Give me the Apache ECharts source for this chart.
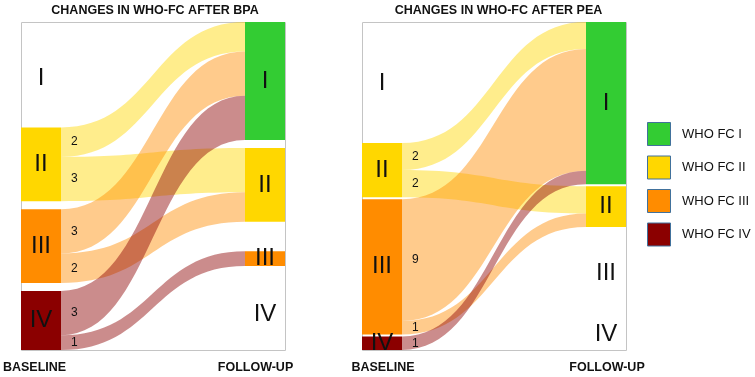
<!DOCTYPE html>
<html>
<head>
<meta charset="utf-8">
<title>Changes in WHO-FC</title>
<script src="https://cdn.jsdelivr.net/npm/echarts@6/dist/echarts.min.js"></script>
<style>
  html, body { margin: 0; padding: 0; background: #fff; }
  #chart { width: 755px; height: 377px; }
</style>
</head>
<body>
<div id="chart"></div>
<script>
// WHO functional classes
const classes = ['I', 'II', 'III', 'IV'];
const classColors = ['#33CC33', '#FFD700', '#FF8C00', '#8B0000'];
const legendNames = ['WHO FC I', 'WHO FC II', 'WHO FC III', 'WHO FC IV'];

// BPA: patients moving from baseline class to follow-up class
const bpaFrom = ['II', 'II', 'III', 'III', 'IV', 'IV'];
const bpaTo = ['I', 'II', 'I', 'II', 'I', 'III'];
const bpaCount = [2, 3, 3, 2, 3, 1];

// PEA
const peaFrom = ['II', 'II', 'III', 'III', 'IV'];
const peaTo = ['I', 'II', 'I', 'II', 'I'];
const peaCount = [2, 2, 9, 1, 1];

// room kept for classes nobody is in (in patient units), so the label still has a place
const bpaBaseRoom = [6.6, 0, 0, 0];
const bpaFollowRoom = [0, 0, 0, 5.15];
const bpaFollowPad = [0, 0, 0.9, 0];
const peaBaseRoom = [8.8, 0, 0, 0];
const peaFollowRoom = [0, 0, 6.2, 2.6];
const peaFollowPad = [0, 0, 0, 0];

const FONT = "'Liberation Sans', Arial, Helvetica, sans-serif";
const boxTop = 22;
const boxW = 264;
const boxH = 328;
const nodeW = 40;
const clear = 'rgba(0,0,0,0)';

const panels = [
  {
    tag: 'bpa', title: 'CHANGES IN WHO-FC AFTER BPA', left: 21, gap: 8,
    from: bpaFrom, to: bpaTo, count: bpaCount,
    baseRoom: bpaBaseRoom, followRoom: bpaFollowRoom, followPad: bpaFollowPad,
    emptyLabelShift: 8,
    titleX: 155, baseX: 34.5, followX: 255.5,
  },
  {
    tag: 'pea', title: 'CHANGES IN WHO-FC AFTER PEA', left: 362, gap: 2,
    from: peaFrom, to: peaTo, count: peaCount,
    baseRoom: peaBaseRoom, followRoom: peaFollowRoom, followPad: peaFollowPad,
    emptyLabelShift: 2,
    titleX: 498.5, baseX: 383, followX: 607,
  },
];

function columnNodes(tag, depth, used, room, pad, shift) {
  const out = [];
  classes.forEach((c, i) => {
    if (pad[i] > 0) {
      out.push({
        name: tag + '-pad-' + c, depth: depth, value: pad[i],
        itemStyle: { color: clear }, label: { show: false },
      });
    }
    const node = { name: tag + '-' + c, depth: depth, label: { formatter: c } };
    if (used.indexOf(c) >= 0) {
      node.itemStyle = { color: classColors[i] };
    } else {
      node.value = room[i];
      node.itemStyle = { color: clear };
      node.label.offset = [0, shift];
    }
    out.push(node);
  });
  return out;
}

function buildSeries(p) {
  const base = columnNodes(p.tag + '-b', 0, p.from, p.baseRoom, [0, 0, 0, 0], p.emptyLabelShift);
  const follow = columnNodes(p.tag + '-f', 1, p.to, p.followRoom, p.followPad, 2);
  const links = p.count.map((v, i) => ({
    source: p.tag + '-b-' + p.from[i],
    target: p.tag + '-f-' + p.to[i],
    value: v,
  }));
  return {
    type: 'sankey',
    left: p.left,
    top: boxTop,
    width: boxW,
    height: boxH,
    nodeWidth: nodeW,
    nodeGap: p.gap,
    layoutIterations: 0,
    nodeAlign: 'justify',
    draggable: false,
    silent: true,
    emphasis: { disabled: true },
    label: { position: 'inside', color: '#111', fontSize: 24, fontFamily: FONT },
    itemStyle: { borderWidth: 0 },
    lineStyle: { color: 'source', opacity: 0.45, curveness: 0.5 },
    data: base.concat(follow),
    links: links,
  };
}

const chart = echarts.init(document.getElementById('chart'));
chart.setOption({
  animation: false,
  series: panels.map(buildSeries),
});

function txt(x, y, text, font, align) {
  return {
    type: 'text', x: x, y: y, z: 10, silent: true,
    style: {
      text: text, fill: '#111', font: font,
      align: align || 'center', verticalAlign: 'middle',
      textAlign: align || 'center', textVerticalAlign: 'middle',
    },
  };
}

// numbers next to each baseline node, read back from the sankey layout
function linkNumbers(seriesIndex) {
  const model = chart.getModel().getSeriesByIndex(seriesIndex);
  const box = model.layoutInfo || { x: panels[seriesIndex].left, y: boxTop };
  const out = [];
  model.getGraph().edges.forEach((edge) => {
    const n = edge.node1.getLayout();
    const e = edge.getLayout();
    out.push(txt(box.x + n.x + n.dx + 10, box.y + n.y + e.sy + e.dy / 2,
      String(edge.getValue()), '12px ' + FONT, 'left'));
  });
  return out;
}

const graphics = [];
panels.forEach((p, i) => {
  graphics.push({
    type: 'rect', z: 1, silent: true,
    shape: { x: p.left + 0.5, y: boxTop + 0.5, width: boxW, height: boxH },
    style: { fill: null, stroke: '#c4c4c4', lineWidth: 1 },
  });
  graphics.push(txt(p.titleX, 11, p.title, 'bold 12.5px ' + FONT));
  graphics.push(txt(p.baseX, 368, 'BASELINE', 'bold 12.5px ' + FONT));
  graphics.push(txt(p.followX, 368, 'FOLLOW-UP', 'bold 12.5px ' + FONT));
  linkNumbers(i).forEach((t) => graphics.push(t));
});

legendNames.forEach((name, i) => {
  const y = 122 + i * 33.5;
  graphics.push({
    type: 'rect', z: 10, silent: true,
    shape: { x: 647.5, y: y + 0.5, width: 23, height: 23 },
    style: { fill: classColors[i], stroke: '#41719C', lineWidth: 1 },
  });
  graphics.push(txt(682, y + 12, name, '13px ' + FONT, 'left'));
});

chart.setOption({ graphic: graphics });
</script>
</body>
</html>
